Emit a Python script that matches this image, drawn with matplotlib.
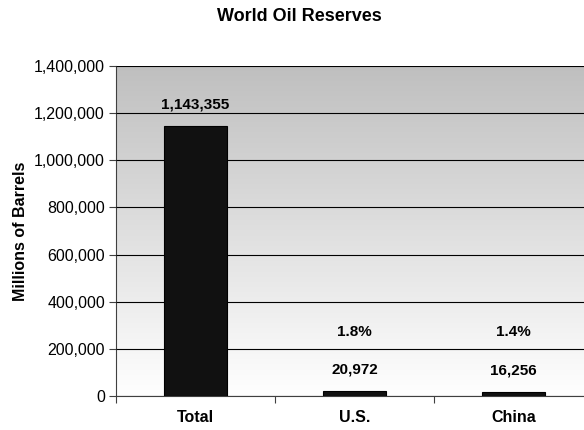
import numpy as np
import matplotlib.pyplot as plt
from matplotlib.ticker import FuncFormatter

# Data

categories = ['Total', 'U.S.', 'China']
reserves = [1143355, 20972, 16256]
pct_labels = ['', '1.8%', '1.4%']

plt.rcParams['font.family'] = ['Liberation Sans', 'DejaVu Sans']

fig = plt.figure(figsize=(5.84, 4.30), dpi=100)
ax = fig.add_axes([116/584, 34/430, 477/584, 330/430])

x = np.arange(len(categories))

# gradient background, grey at top to white at bottom
grad = np.linspace(1.0, 0.0, 256).reshape(-1, 1)
cols = 0.75 + 0.25 * grad
img = np.dstack([cols, cols, cols])
ax.imshow(img, extent=[-0.5, 2.5, 0, 1400000], aspect='auto', origin='lower', zorder=0)

ax.bar(x, reserves, width=0.4, color='#111111', edgecolor='black', linewidth=0.8, zorder=3)

ax.set_xlim(-0.5, 2.5)
ax.set_ylim(0, 1400000)
ax.set_yticks(np.arange(0, 1400001, 200000))
ax.yaxis.set_major_formatter(FuncFormatter(lambda v, p: f"{int(v):,}"))
ax.yaxis.grid(True, color='black', linewidth=0.8, zorder=1)
ax.set_axisbelow(False)

ax.set_xticks([-0.5, 0.5, 1.5, 2.5])
ax.set_xticklabels([])
ax.set_xticks(x, minor=True)
ax.set_xticklabels(categories, minor=True, fontsize=11.5, fontweight='bold')
ax.tick_params(axis='x', which='minor', length=0, pad=10)
ax.tick_params(axis='x', which='major', length=5, color='#404040')
ax.tick_params(axis='y', length=5, color='#404040', labelsize=11.5, pad=3)

for s in ['top', 'right']:
    ax.spines[s].set_visible(False)
ax.spines['left'].set_color('#404040')
ax.spines['bottom'].set_color('#404040')

for i, v in enumerate(reserves):
    ax.annotate(f"{v:,}", (x[i], v), xytext=(0, 10.5), textcoords='offset points',
                ha='center', va='bottom', fontsize=11, fontweight='bold', zorder=4)
    if pct_labels[i]:
        ax.text(x[i], 271000, pct_labels[i], ha='center', va='center',
                fontsize=11, fontweight='bold', zorder=4)

ax.set_ylabel('Millions of Barrels', fontsize=11.5, fontweight='bold', labelpad=4)
fig.text(299/584, 1 - 16.5/430, 'World Oil Reserves', ha='center', va='center',
         fontsize=13, fontweight='bold')

fig.savefig('out.png', dpi=100)
